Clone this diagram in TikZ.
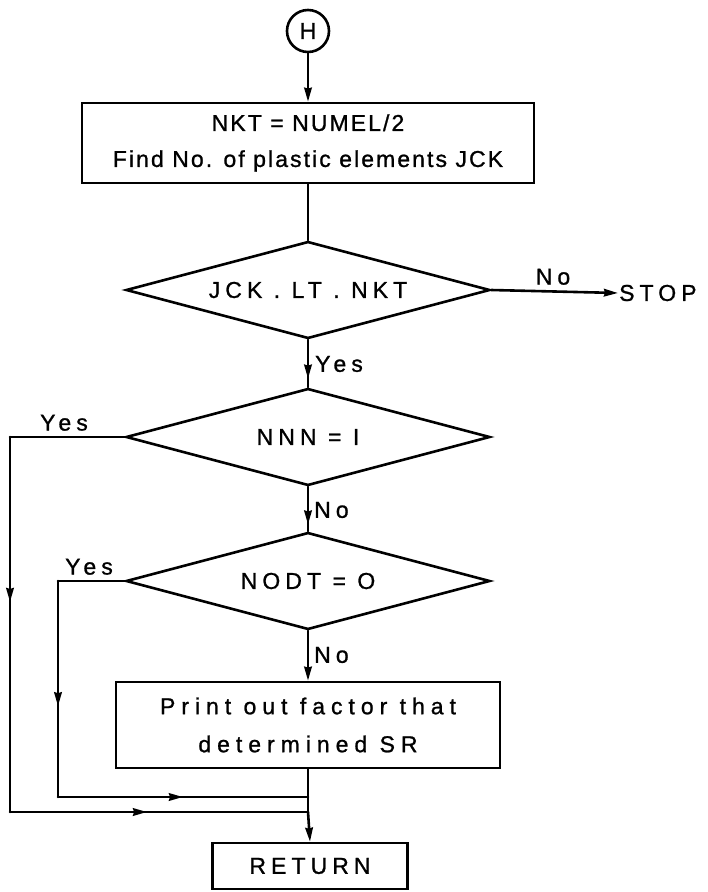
\documentclass[tikz,border=0pt]{standalone}
\usepackage{fontspec}
\setmainfont{Liberation Sans}[LetterSpace=22,FakeBold=1]
\newfontfamily\narrowlet{Liberation Sans}[LetterSpace=9,FakeBold=1]
\newfontfamily\widelet{Liberation Sans}[LetterSpace=26,FakeBold=1]
\usetikzlibrary{shapes.geometric,arrows.meta,decorations.markings}
\tikzset{
  every node/.style={font=\fontsize{23}{34}\selectfont},
  ln/.style={line width=2.6pt, line cap=round, line join=round},
  tip/.style={-{Stealth[length=14pt,width=7.5pt,inset=1pt]}},
  midarrow/.style={postaction={decorate},decoration={markings,
      mark=at position #1 with {\arrow{Stealth[length=14pt,width=7.5pt,inset=1pt]}}}},
  procbox/.style={draw, line width=2.6pt, rectangle, inner sep=0pt, align=center},
  decision/.style={draw, line width=2.6pt, diamond, aspect=3.75, inner sep=0pt,
      minimum width=364pt, minimum height=97pt},
  lbl/.style={inner sep=1pt}
}
\begin{document}
\begin{tikzpicture}[x=1pt,y=-1pt]
\useasboundingbox (0,0) rectangle (708,892);
\fill[white] (0,0) rectangle (708,892);
% nodes
\node[draw, line width=2.6pt, circle, minimum size=42pt, inner sep=0pt] (h) at (308,31) {\narrowlet H};
\node[procbox, minimum width=452pt, minimum height=80pt] (b1) at (308,143)
  {\narrowlet NKT = NUMEL/2\\[2pt]\narrowlet Find No. of plastic elements JCK};
\node[decision] (d1) at (308,290) {JCK . LT . NKT};
\node[decision] (d2) at (308,437) {NNN = I};
\node[decision] (d3) at (308,581) {NODT = O};
\node[procbox, minimum width=384pt, minimum height=86pt] (b3) at (308,725)
  {\widelet Print out factor that\\[4pt]\widelet determined SR};
\node[procbox, minimum width=195pt, minimum height=46pt] (ret) at (310,866) {RETURN};
\node[lbl, anchor=west] (stop) at (618,293) {STOP};
% labels
\node[lbl, anchor=south] (lno1) at (553,286) {No};
\node[lbl, anchor=west] (lyes1) at (314,364) {Yes};
\node[lbl, anchor=south] (lyes2) at (64,432) {Yes};
\node[lbl, anchor=west] (lno2) at (313,510) {No};
\node[lbl, anchor=south] (lyes3) at (89,576) {Yes};
\node[lbl, anchor=west] (lno3) at (313,655) {No};
% coordinates
\coordinate (o1) at (10,437);
\coordinate (o2) at (10,812);
\coordinate (j2) at (308,812);
\coordinate (i1) at (58,581);
\coordinate (i2) at (58,797);
\coordinate (j1) at (308,797);
% connectors
\draw[ln,tip] (h) -- (b1);
\draw[ln] (b1) -- (d1);
\draw[ln,tip] (d1.east) -- (stop.west);
\draw[ln,midarrow=0.82] (d1.south) -- (d2.north);
\draw[ln,midarrow=0.85] (d2.south) -- (d3.north);
\draw[ln,tip] (d3.south) -- (b3.north);
\draw[ln] (b3.south) -- (j1);
\draw[ln] (j1) -- (j2);
\draw[ln,tip] (j2) -- (ret.north);
\draw[ln] (d2.west) -- (o1);
\draw[ln,midarrow=0.44] (o1) -- (o2);
\draw[ln,midarrow=0.46] (o2) -- (j2);
\draw[ln] (d3.west) -- (i1);
\draw[ln,midarrow=0.58] (i1) -- (i2);
\draw[ln,midarrow=0.5] (i2) -- (j1);
\end{tikzpicture}
\end{document}
